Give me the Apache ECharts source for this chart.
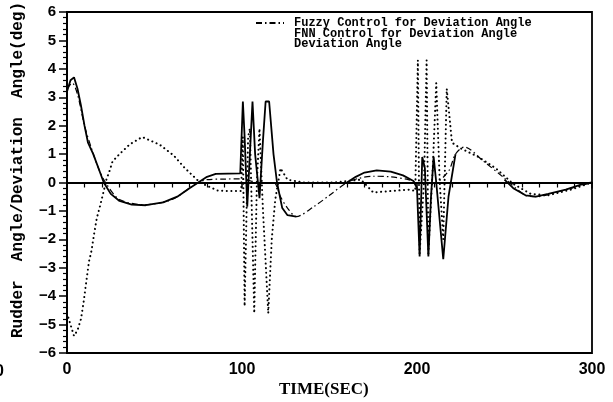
<!DOCTYPE html>
<html><head><meta charset="utf-8">
<script src="https://cdn.jsdelivr.net/npm/echarts@6/dist/echarts.min.js"></script>
<style>html,body{margin:0;padding:0;background:#fff}#c{width:613px;height:402px}</style>
</head><body><div id="c"></div>
<script>
// Deviation Angle (solid)
const devT = [0,2,4,6,8,10,12,15,18,21,25,30,37,45,55,63,70,75,80,85,99,100.5,101.5,103,104.5,106,107.5,110,112,113.5,115.5,118,120,123,126,131,135,160,165,170,177,185,192,198,200,201.5,203,204.5,206.5,208,209.5,211,215,218,222,224,250,255,262,268,275,285,295,300];
const devY = [3.2,3.6,3.7,3.3,2.7,2.0,1.4,1.0,0.5,0,-0.4,-0.65,-0.78,-0.8,-0.7,-0.5,-0.2,0,0.2,0.3,0.32,2.85,1.6,-0.85,1.0,2.85,1.0,-0.55,1.5,2.85,2.85,1.0,0,-0.9,-1.15,-1.2,'-',0,0.2,0.35,0.43,0.38,0.25,0.05,-0.2,-2.6,0.9,0.5,-2.6,-0.5,0.9,0,-2.7,-0.5,1.0,'-',0.1,-0.2,-0.45,-0.5,-0.4,-0.25,-0.05,0];
// Fuzzy Control (dash-dot)
const fuzT = [0,3,6,10,14,18,22,30,45,60,70,75,80,90,99,102,110,118,122,126,131,141,150,160,167,175,185,195,200,210,218,222,227,238,250,262,268,285,300];
const fuzY = [3.3,3.5,3.1,2.0,1.2,0.5,0,-0.6,-0.78,-0.6,-0.2,0,0.1,0.12,0.13,0.1,0,0,-0.5,-0.9,-1.2,-0.85,-0.45,0,0.15,0.22,0.2,0.1,0,0,0.4,1.0,1.25,0.75,0.15,-0.45,-0.5,-0.25,0];
// FNN Control (dotted)
const fnnT = [0,2,4,6,8,9.5,11,12.5,14,15.5,17,19,20.6,22.5,24.6,26,30,36,43,53,61,67,70,76,83,86,92,99.5,100.5,101.5,103.5,104.5,107,108.5,110,112,115,117,119,122,126,135,145,153,160,168,175,185,195,199,200.5,201.5,204,205.5,206.5,209,211,213,215,217,220,225,235,245,255,265,275,288,300];
const fnnY = [-4.6,-5.0,-5.4,-5.2,-4.8,-4.2,-3.5,-2.8,-2.4,-1.8,-1.26,-0.8,-0.4,0.1,0.46,0.74,1.0,1.35,1.6,1.33,0.95,0.53,0.35,0,-0.2,-0.28,-0.3,-0.3,1.6,-4.35,1.6,1.9,-4.6,0,1.9,-1,-4.6,-2,-0.6,0.5,0.1,0,0,0,0.05,0.1,-0.35,-0.3,-0.25,-0.3,4.3,-2.5,0,4.3,-2.5,0.5,3.5,0,-2.0,3.3,1.4,1.2,0.9,0.5,-0.05,-0.4,-0.45,-0.25,0];

const seriesNames = ['Fuzzy Control for Deviation Angle','FNN Control for Deviation Angle','Deviation Angle'];
const xTickLabels = ['0','100','200','300'];
const yAxisTitle = 'Rudder  Angle/Deviation  Angle(deg)';
const xAxisTitle = 'TIME(SEC)';

const zip = (a,b) => a.map((t,i) => [t, b[i]]);
const chart = echarts.init(document.getElementById('c'), null, {renderer:'canvas'});
const bold = {fontFamily:'Liberation Sans', fontWeight:'bold', color:'#000'};
chart.setOption({
  animation:false,
  backgroundColor:'#fff',
  grid:{left:67,right:21,top:12,bottom:49,show:true,borderColor:'#000',borderWidth:1.8},
  legend:{
    orient:'vertical', left:250, top:12, itemWidth:28, itemHeight:8, itemGap:-1.5,
    textStyle:{fontFamily:'Liberation Mono',fontWeight:'bold',fontSize:12,lineHeight:10.5,color:'#000',padding:[0,0,0,5]},
    data:[
      {name:seriesNames[0], itemStyle:{opacity:0}},
      {name:seriesNames[1], lineStyle:{opacity:0}, itemStyle:{opacity:0}},
      {name:seriesNames[2], lineStyle:{opacity:0}, itemStyle:{opacity:0}}
    ]
  },
  xAxis:{
    type:'value', min:0, max:300, interval:100,
    axisLine:{lineStyle:{color:'#000',width:2}},
    axisTick:{length:6,lineStyle:{color:'#000',width:1.5}},
    minorTick:{show:true,splitNumber:10,length:5,lineStyle:{color:'#000',width:1.2}},
    splitLine:{show:false},
    axisLabel:Object.assign({fontSize:16,margin:9,formatter:v => xTickLabels[Math.round(v/100)]}, bold)
  },
  yAxis:{
    type:'value', min:-6, max:6, interval:1,
    axisLine:{lineStyle:{color:'#000',width:2}},
    axisTick:{length:8,lineStyle:{color:'#000',width:1.5}},
    minorTick:{show:true,splitNumber:5,length:4,lineStyle:{color:'#000',width:1.2}},
    splitLine:{show:false},
    axisLabel:Object.assign({fontSize:15,margin:11,formatter:v => String(v).replace('-','\u2212')}, bold)
  },
  series:[
    {name:seriesNames[0], type:'line', data:zip(fuzT,fuzY), showSymbol:false, symbol:'none', smooth:0.3,
     lineStyle:{color:'#000',width:1.2,type:[6,3,1.5,3]}, itemStyle:{color:'#000'}},
    {name:seriesNames[1], type:'line', data:zip(fnnT,fnnY), showSymbol:false, symbol:'none',
     lineStyle:{color:'#000',width:2,type:[0.1,4.5],cap:'round'}, itemStyle:{color:'#000'}},
    {name:seriesNames[2], type:'line', data:zip(devT,devY), showSymbol:false, symbol:'none', connectNulls:false,
     lineStyle:{color:'#000',width:1.8}, itemStyle:{color:'#000'},
     markLine:{silent:true, symbol:'none', label:{show:false}, lineStyle:{color:'#000',width:2,type:'solid'}, data:[{yAxis:0}]}}
  ],
  graphic:[
    {type:'text', x:10, y:338, rotation:Math.PI/2, style:{text:yAxisTitle, font:'bold 16px "Liberation Mono"', fill:'#000'}},
    {type:'text', left:279, top:381, style:{text:xAxisTitle, font:'bold 17px "Liberation Serif"', fill:'#000'}},
    {type:'text', left:-5, top:364, style:{text:'0', font:'bold 16px "Liberation Sans"', fill:'#000'}}
  ]
});
</script></body></html>
